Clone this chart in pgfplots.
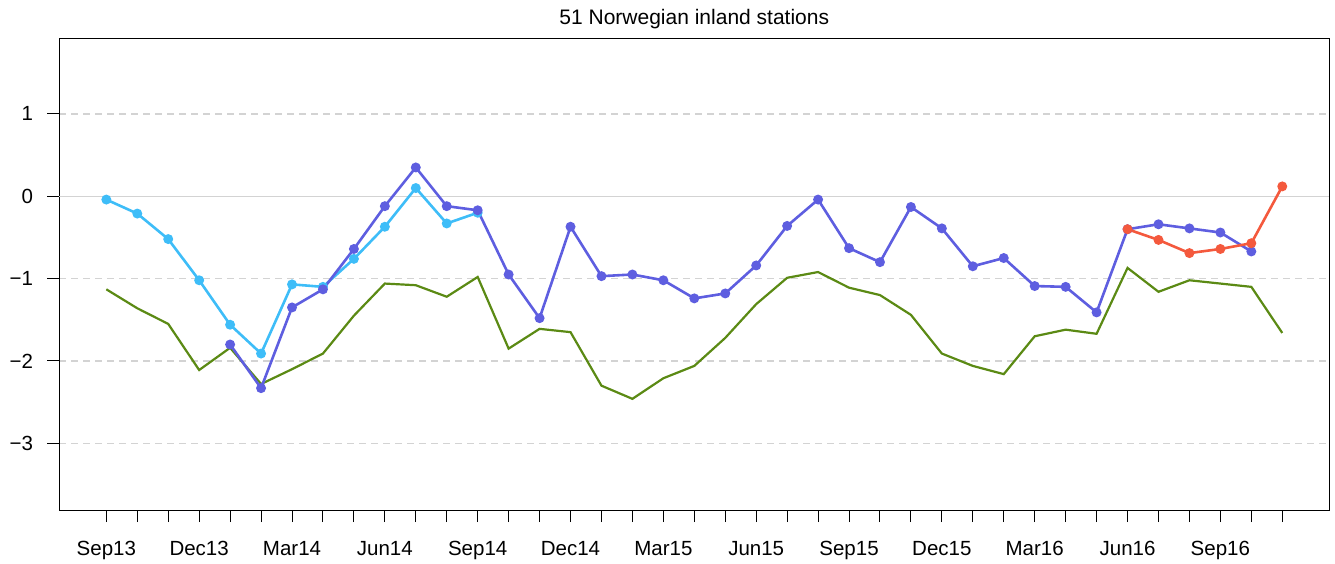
\documentclass[border=0pt]{standalone}
\usepackage{pgfplots}
\pgfplotsset{compat=1.18}
\usepackage{fontspec}
\setmainfont{Liberation Sans}
\definecolor{cgreen}{HTML}{5B8A14}
\definecolor{cblue}{HTML}{3EBDF8}
\definecolor{cpurple}{HTML}{5E5EE0}
\definecolor{cred}{HTML}{F4593D}
\definecolor{cgrid}{HTML}{D3D3D3}
\begin{document}
\begin{tikzpicture}
\begin{axis}[
  scale only axis,
  width=1270pt, height=471pt,
  xmin=-1.52, xmax=39.52,
  ymin=-3.81, ymax=1.91,
  axis line style={black, line width=1pt},
  xtick={0,...,38},
  xticklabels={Sep13,,,Dec13,,,Mar14,,,Jun14,,,Sep14,,,Dec14,,,Mar15,,,Jun15,,,Sep15,,,Dec15,,,Mar16,,,Jun16,,,Sep16,,},
  ytick={-3,-2,-1,0,1},
  yticklabels={−3,−2,−1,0,1},
  xtick pos=bottom, ytick pos=left,
  tick align=outside,
  major tick length=12pt,
  tick style={black, line width=1pt},
  ymajorgrids,
  major grid style={cgrid, line width=1.2pt, dash pattern=on 7pt off 5pt},
  ticklabel style={font=\fontsize{20.5}{24}\selectfont},
  xticklabel style={anchor=north, inner sep=0pt, yshift=-19pt},
  yticklabel style={anchor=east, inner sep=0pt, xshift=-14pt},
  clip=false,
]
\draw[cgrid, line width=1.2pt] (axis cs:-1.52,0) -- (axis cs:39.52,0);
\coordinate (bl) at (rel axis cs:0,0);
\coordinate (tr) at (rel axis cs:1,1);
\node[anchor=base, font=\fontsize{21}{25}\selectfont] at ([yshift=14pt]rel axis cs:0.5,1) {51 Norwegian inland stations};
% green
\addplot[cgreen, line width=2.2pt, no marks] coordinates {
(0,-1.13) (1,-1.36) (2,-1.55) (3,-2.11) (4,-1.84) (5,-2.28) (6,-2.10) (7,-1.91)
(8,-1.45) (9,-1.06) (10,-1.08) (11,-1.22) (12,-0.98) (13,-1.85) (14,-1.61) (15,-1.65)
(16,-2.30) (17,-2.46) (18,-2.21) (19,-2.06) (20,-1.72) (21,-1.31) (22,-0.99) (23,-0.92)
(24,-1.11) (25,-1.20) (26,-1.44) (27,-1.91) (28,-2.06) (29,-2.16) (30,-1.70) (31,-1.62)
(32,-1.67) (33,-0.87) (34,-1.16) (35,-1.02) (36,-1.06) (37,-1.10) (38,-1.66)
};
% light blue
\addplot[cblue, line width=2.6pt, mark=*, mark size=3.6pt, mark options={fill=cblue, draw=none}] coordinates {
(0,-0.04) (1,-0.21) (2,-0.52) (3,-1.02) (4,-1.56) (5,-1.91) (6,-1.07) (7,-1.10)
(8,-0.76) (9,-0.37) (10,0.10) (11,-0.33) (12,-0.20)
};
% purple
\addplot[cpurple, line width=2.6pt, mark=*, mark size=3.6pt, mark options={fill=cpurple, draw=none}] coordinates {
(4,-1.80) (5,-2.33) (6,-1.35) (7,-1.13) (8,-0.64) (9,-0.12) (10,0.35) (11,-0.12)
(12,-0.17) (13,-0.95) (14,-1.48) (15,-0.37) (16,-0.97) (17,-0.95) (18,-1.02) (19,-1.24)
(20,-1.18) (21,-0.84) (22,-0.36) (23,-0.04) (24,-0.63) (25,-0.80) (26,-0.13) (27,-0.39)
(28,-0.85) (29,-0.75) (30,-1.09) (31,-1.10) (32,-1.41) (33,-0.40) (34,-0.34) (35,-0.39)
(36,-0.44) (37,-0.67)
};
% red
\addplot[cred, line width=2.6pt, mark=*, mark size=3.6pt, mark options={fill=cred, draw=none}] coordinates {
(33,-0.40) (34,-0.53) (35,-0.69) (36,-0.64) (37,-0.57) (38,0.12)
};
\end{axis}
\pgfresetboundingbox
\path ([shift={(-59.3pt,-53pt)}]bl) rectangle ([shift={(5.7pt,39pt)}]tr);
\end{tikzpicture}
\end{document}
